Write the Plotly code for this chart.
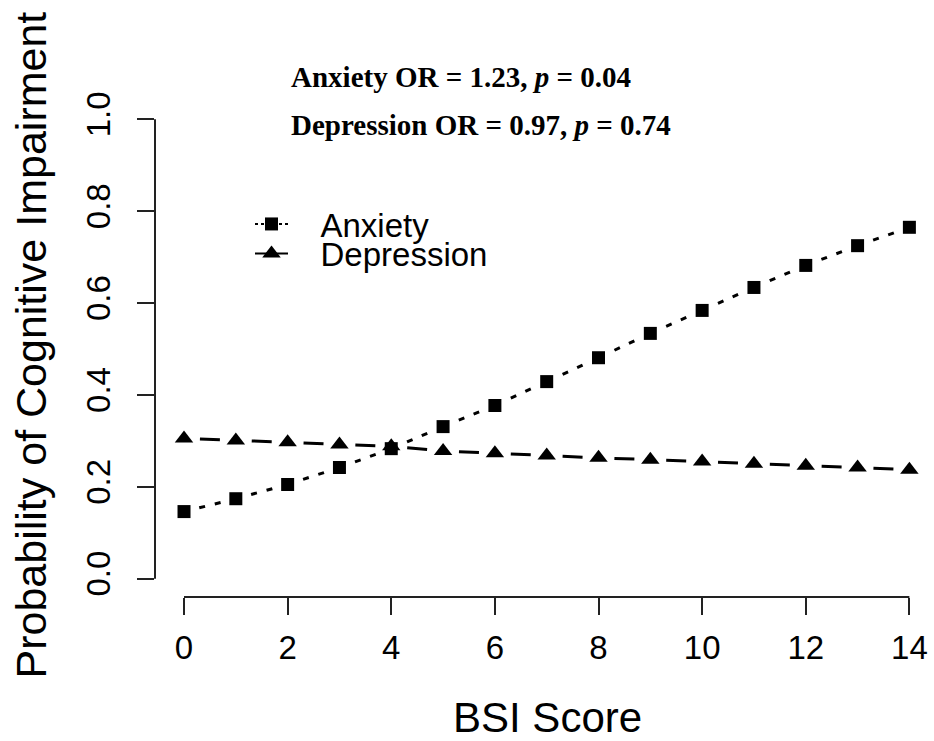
import math
import plotly.graph_objects as go

bsi_score = list(range(15))
anxiety = [0.146, 0.174, 0.205, 0.242, 0.283, 0.331, 0.377, 0.429, 0.481,
           0.534, 0.584, 0.634, 0.682, 0.725, 0.765]
depression = [0.305, 0.301, 0.297, 0.292, 0.288, 0.278, 0.273, 0.268, 0.263,
              0.259, 0.255, 0.250, 0.246, 0.242, 0.237]
x_ticks = [0, 2, 4, 6, 8, 10, 12, 14]
y_ticks = [0.0, 0.2, 0.4, 0.6, 0.8, 1.0]
legend_names = ["Anxiety", "Depression"]
stats_lines = ["<b>Anxiety OR = 1.23, <i>p</i> = 0.04</b>",
               "<b>Depression OR = 0.97, <i>p</i> = 0.74</b>"]

W, H = 934, 741
ML, MR, MT, MB = 155, 0, 101, 144
XR = [-0.56, 14.475]
YR = [-0.04, 1.04]
PW = W - ML - MR
PH = H - MT - MB
sx = PW / (XR[1] - XR[0])
sy = PH / (YR[1] - YR[0])


def seg_lengths(xs, ys):
    return [math.hypot((xs[i + 1] - xs[i]) * sx, (ys[i + 1] - ys[i]) * sy)
            for i in range(len(xs) - 1)]


def dotted_dash(xs, ys):
    parts = []
    for L in seg_lengths(xs, ys):
        a = max(L / 2 - 11, 0)
        parts += [0, a, 6, 10, 6, a]
    return ",".join(f"{v:.2f}px" for v in parts)


def dashed_dash(xs, ys):
    parts = []
    for L in seg_lengths(xs, ys):
        a = max((L - 20) / 2, 0)
        parts += [0, a, 20, a]
    return ",".join(f"{v:.2f}px" for v in parts)


def px_x(px):
    return (px - ML) / PW


def px_y(py):
    return (H - MB - py) / PH


FS = "Liberation Sans, Arial, sans-serif"
SERIF = "Liberation Serif, Times New Roman, serif"

fig = go.Figure()
fig.add_trace(go.Scatter(
    x=bsi_score, y=anxiety, mode="lines+markers", showlegend=False,
    line=dict(color="black", width=3, dash=dotted_dash(bsi_score, anxiety), simplify=False),
    marker=dict(symbol="square", size=13, color="black")))
fig.add_trace(go.Scatter(
    x=bsi_score, y=depression, mode="lines+markers", showlegend=False,
    line=dict(color="black", width=3, dash=dashed_dash(bsi_score, depression), simplify=False),
    marker=dict(symbol="triangle-up", size=16, color="black")))

# legend entries
fig.add_trace(go.Scatter(
    x=[None], y=[None], mode="lines+markers", name="\u00a0\u00a0\u00a0" + legend_names[0],
    legend="legend",
    line=dict(color="black", width=2, dash="3px,3px"),
    marker=dict(symbol="square", size=13, color="black")))
fig.add_trace(go.Scatter(
    x=[None], y=[None], mode="lines+markers", name="\u00a0\u00a0\u00a0" + legend_names[1],
    legend="legend2",
    line=dict(color="black", width=2),
    marker=dict(symbol="triangle-up", size=16, color="black")))

axis_common = dict(showgrid=False, zeroline=False, showline=False,
                   ticks="outside", ticklen=17, tickwidth=2, tickcolor="#222",
                   tickfont=dict(family=FS, size=33, color="black"))

fig.update_layout(
    width=W, height=H,
    margin=dict(l=ML, r=MR, t=MT, b=MB, autoexpand=False),
    paper_bgcolor="white", plot_bgcolor="white",
    xaxis=dict(range=XR, tickvals=x_ticks, ticklabelstandoff=4, **axis_common),
    yaxis=dict(range=YR, tickvals=y_ticks, tickformat=".1f", tickangle=-90,
               ticklabelstandoff=14, **axis_common),
    legend=dict(x=px_x(250), y=px_y(224), xanchor="left", yanchor="middle",
                itemwidth=33, bgcolor="rgba(0,0,0,0)",
                font=dict(family=FS, size=33, color="black")),
    legend2=dict(x=px_x(250), y=px_y(253.5), xanchor="left", yanchor="middle",
                 itemwidth=33, bgcolor="rgba(0,0,0,0)",
                 font=dict(family=FS, size=33, color="black")),
    shapes=[
        dict(type="line", xref="paper", yref="y", x0=0, x1=0, y0=y_ticks[0], y1=y_ticks[-1],
             line=dict(color="#222", width=2)),
        dict(type="line", xref="x", yref="paper", x0=x_ticks[0], x1=x_ticks[-1], y0=0, y1=0,
             line=dict(color="#222", width=2)),
    ],
    annotations=[
        dict(text=stats_lines[0], xref="paper", yref="paper", x=px_x(289),
             y=px_y(77), xanchor="left", yanchor="middle", showarrow=False,
             font=dict(family=SERIF, size=29, color="black")),
        dict(text=stats_lines[1], xref="paper", yref="paper", x=px_x(289),
             y=px_y(125), xanchor="left", yanchor="middle", showarrow=False,
             font=dict(family=SERIF, size=29, color="black")),
        dict(text="BSI Score", xref="paper", yref="paper", x=px_x(547.5),
             y=px_y(717), xanchor="center", yanchor="middle", showarrow=False,
             font=dict(family=FS, size=42, color="black")),
        dict(text="Probability of Cognitive Impairment", xref="paper", yref="paper",
             x=px_x(30), y=px_y(345.5), textangle=-90,
             xanchor="center", yanchor="middle", showarrow=False,
             font=dict(family=FS, size=43, color="black")),
    ],
)

fig.write_html("out.html", config={"displayModeBar": False},
               post_script="document.body.style.margin='0';")
